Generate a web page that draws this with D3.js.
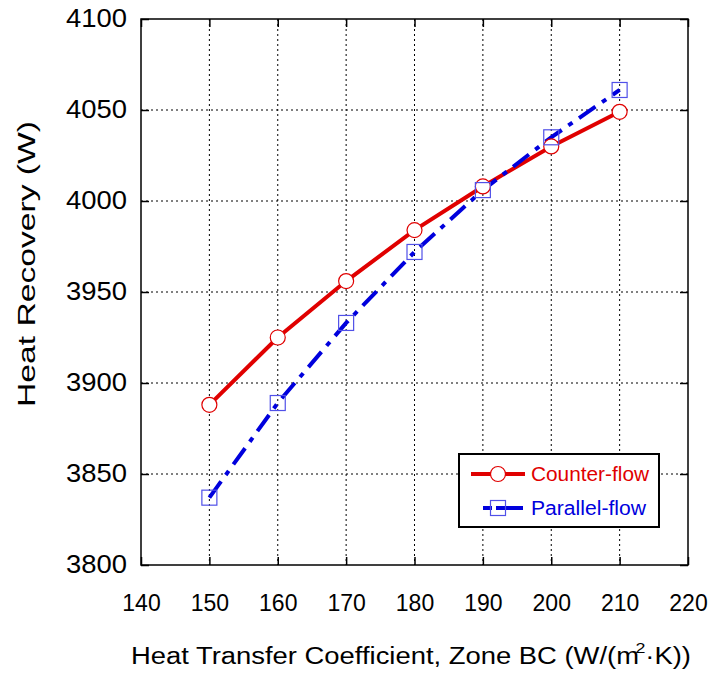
<!DOCTYPE html>
<html><head><meta charset="utf-8">
<script src="https://cdn.jsdelivr.net/npm/d3@7"></script>
<style>body{margin:0;background:#fff}svg{display:block}text{font-family:"Liberation Sans",Arial,sans-serif}</style>
</head><body>
<script>
const xValues = [150, 160, 170, 180, 190, 200, 210];
const counterFlow = [3888, 3925, 3956, 3984, 4008, 4030, 4049];
const parallelFlow = [3837, 3889, 3933, 3972, 4006, 4035, 4061];
const xTicks = [140, 150, 160, 170, 180, 190, 200, 210, 220];
const yTicks = [3800, 3850, 3900, 3950, 4000, 4050, 4100];
const seriesNames = ["Counter-flow", "Parallel-flow"];

const W = 711, H = 675;
const m = {left: 141, right: 688, top: 19, bottom: 565};
const svg = d3.select("body").append("svg").attr("width", W).attr("height", H);
const x = d3.scaleLinear().domain([140, 220]).range([m.left, m.right]);
const y = d3.scaleLinear().domain([3800, 4100]).range([m.bottom, m.top]);

const red = "#e00000", blue = "#0000dd";
const FF = '"Liberation Sans",Arial,sans-serif';

// grid
const g = svg.append("g");
g.selectAll(".vg").data(xTicks.slice(1, -1)).enter().append("line")
  .attr("x1", d => x(d)).attr("x2", d => x(d)).attr("y1", m.top).attr("y2", m.bottom)
  .attr("stroke", "#000").attr("stroke-width", 1).attr("stroke-dasharray", "2,3");
g.selectAll(".hg").data(yTicks.slice(1, -1)).enter().append("line")
  .attr("y1", d => y(d)).attr("y2", d => y(d)).attr("x1", m.left).attr("x2", m.right)
  .attr("stroke", "#000").attr("stroke-width", 1).attr("stroke-dasharray", "2,3");

// axes with inward ticks
const fmt = d3.format("d");
const axB = svg.append("g").attr("transform", `translate(0,${m.bottom})`)
  .call(d3.axisBottom(x).tickValues(xTicks).tickFormat(fmt).tickSizeInner(-8).tickSizeOuter(0).tickPadding(30));
const axT = svg.append("g").attr("transform", `translate(0,${m.top})`)
  .call(d3.axisTop(x).tickValues(xTicks).tickSizeInner(-8).tickSizeOuter(0).tickFormat(""));
const axL = svg.append("g").attr("transform", `translate(${m.left},0)`)
  .call(d3.axisLeft(y).tickValues(yTicks).tickFormat(fmt).tickSizeInner(-8).tickSizeOuter(0).tickPadding(14));
const axR = svg.append("g").attr("transform", `translate(${m.right},0)`)
  .call(d3.axisRight(y).tickValues(yTicks).tickSizeInner(-8).tickSizeOuter(0).tickFormat(""));
[axB, axT, axL, axR].forEach(a => {
  a.select(".domain").remove();
  a.selectAll(".tick line").attr("stroke", "#000").attr("stroke-width", 1.5);
  a.selectAll("text").attr("fill", "#000").attr("font-family", FF);
});
axB.selectAll("text").attr("font-size", "23px").attr("dy", "0.71em");
axL.selectAll("text").attr("font-size", "25px").attr("dy", "0.3em")
  .attr("textLength", 61).attr("lengthAdjust", "spacingAndGlyphs");

svg.append("rect").attr("x", m.left).attr("y", m.top)
  .attr("width", m.right - m.left).attr("height", m.bottom - m.top)
  .attr("fill", "none").attr("stroke", "#000").attr("stroke-width", 1.5);

// lines
const lineGen = vals => d3.line().x((d, i) => x(xValues[i])).y(d => y(d))(vals);
svg.append("path").attr("d", lineGen(counterFlow)).attr("fill", "none")
  .attr("stroke", red).attr("stroke-width", 4);
svg.append("path").attr("d", lineGen(parallelFlow)).attr("fill", "none")
  .attr("stroke", blue).attr("stroke-width", 4)
  .attr("stroke-dasharray", "20,8,5,8");

// markers
svg.selectAll(".cm").data(counterFlow).enter().append("circle")
  .attr("cx", (d, i) => x(xValues[i])).attr("cy", d => y(d)).attr("r", 7.5)
  .attr("fill", "#fff").attr("stroke", red).attr("stroke-width", 1.2);
svg.selectAll(".pm").data(parallelFlow).enter().append("rect")
  .attr("x", (d, i) => x(xValues[i]) - 7.5).attr("y", d => y(d) - 7.5)
  .attr("width", 15).attr("height", 15)
  .attr("fill", "none").attr("stroke", "#5050e8").attr("stroke-width", 1.2);

// axis titles
svg.append("text").attr("transform", `translate(35,264) rotate(-90)`)
  .attr("text-anchor", "middle").attr("font-size", "23px")
  .attr("textLength", 286).attr("lengthAdjust", "spacingAndGlyphs")
  .text("Heat Recovery (W)");
const xt = svg.append("text").attr("x", 131).attr("y", 664)
  .attr("font-size", "23px").attr("textLength", 560).attr("lengthAdjust", "spacingAndGlyphs");
xt.append("tspan").text("Heat Transfer Coefficient, Zone BC (W/(m");
xt.append("tspan").attr("font-size", "15px").attr("dy", -11).attr("dx", -3).text("2");
xt.append("tspan").attr("dy", 11).text("·K))");

// legend
const lg = svg.append("g");
lg.append("rect").attr("x", 459).attr("y", 454).attr("width", 200).attr("height", 73)
  .attr("fill", "#fff").attr("stroke", "#000").attr("stroke-width", 2);
lg.append("line").attr("x1", 471).attr("x2", 525).attr("y1", 474).attr("y2", 474)
  .attr("stroke", red).attr("stroke-width", 4);
lg.append("circle").attr("cx", 498).attr("cy", 474).attr("r", 7.5)
  .attr("fill", "#fff").attr("stroke", red).attr("stroke-width", 1.2);
lg.append("text").attr("x", 531).attr("y", 481).attr("font-size", "20px").attr("fill", red)
  .attr("textLength", 118).attr("lengthAdjust", "spacingAndGlyphs").text(seriesNames[0]);
lg.append("line").attr("x1", 483).attr("x2", 523).attr("y1", 508).attr("y2", 508)
  .attr("stroke", blue).attr("stroke-width", 4).attr("stroke-dasharray", "9,4,30");
lg.append("rect").attr("x", 490.5).attr("y", 500.5).attr("width", 15).attr("height", 15)
  .attr("fill", "none").attr("stroke", "#5050e8").attr("stroke-width", 1.2);
lg.append("text").attr("x", 531).attr("y", 515).attr("font-size", "20px").attr("fill", blue)
  .attr("textLength", 115).attr("lengthAdjust", "spacingAndGlyphs").text(seriesNames[1]);
</script>
</body></html>
